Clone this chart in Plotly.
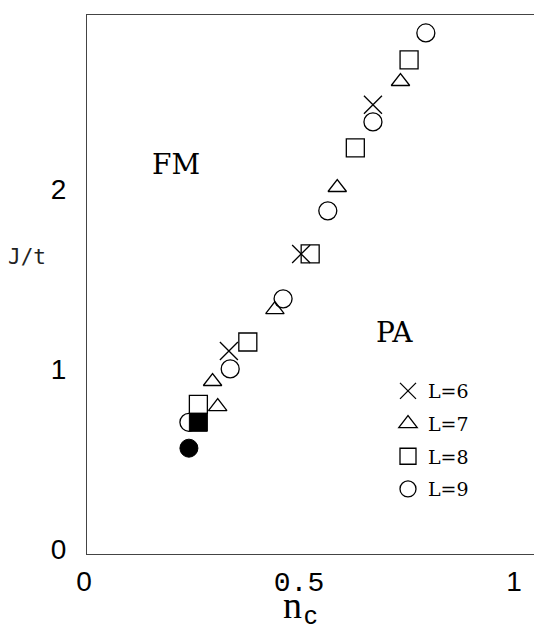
import plotly.graph_objects as go

# ---- data ----
L6_x = [0.330, 0.498, 0.665]
L6_y = [1.13, 1.67, 2.50]

L7_x = [0.292, 0.304, 0.437, 0.582, 0.729]
L7_y = [0.96, 0.82, 1.36, 2.04, 2.63]

L8_x = [0.259, 0.374, 0.519, 0.624, 0.749]
L8_y = [0.833, 1.18, 1.67, 2.26, 2.75]

L9_x = [0.237, 0.333, 0.456, 0.560, 0.665, 0.788]
L9_y = [0.733, 1.03, 1.42, 1.91, 2.405, 2.90]

filled_sq_x = [0.259]
filled_sq_y = [0.733]
filled_ci_x = [0.237]
filled_ci_y = [0.589]

x_tickvals = [0, 0.5, 1]
x_ticktext = ["0", '<span style="font-family:Liberation Mono;font-size:28px">0.5</span>', "1"]
y_tickvals = [0, 1, 2]
y_ticktext = ["0", "1", "2"]

series = [
    ("L=6", L6_x, L6_y, "x-thin-open"),
    ("L=7", L7_x, L7_y, "triangle-up-open"),
    ("L=8", L8_x, L8_y, "square-open"),
    ("L=9", L9_x, L9_y, "circle-open"),
]

fig = go.Figure()
for name, xs, ys, sym in series:
    fig.add_trace(go.Scatter(
        x=xs, y=ys, mode="markers", name=name, legendgroup=name,
        marker=dict(symbol=sym, size=18 if sym != "triangle-up-open" else 16,
                    color="black", line=dict(color="black", width=1.3)),
    ))

fig.add_trace(go.Scatter(x=filled_sq_x, y=filled_sq_y, mode="markers", showlegend=False,
                         marker=dict(symbol="square", size=18, color="black",
                                     line=dict(color="black", width=1))))
fig.add_trace(go.Scatter(x=filled_ci_x, y=filled_ci_y, mode="markers", showlegend=False,
                         marker=dict(symbol="circle", size=18, color="black",
                                     line=dict(color="black", width=1))))

W, H = 534, 629
L, R, T, B = 87, 0, 15, 75
PW, PH = W - L - R, H - T - B


def px(x):
    return (x - L) / PW


def py(y):
    return (554 - y) / PH


fig.update_layout(
    width=W, height=H,
    margin=dict(l=L, r=R, t=T, b=B),
    plot_bgcolor="white", paper_bgcolor="white",
    showlegend=True,
    legend=dict(x=px(388), y=py(372),
                xanchor="left", yanchor="top",
                font=dict(family="DejaVu Serif", size=19, color="black"),
                tracegroupgap=5, bgcolor="rgba(0,0,0,0)", itemsizing="trace"),
    xaxis=dict(range=[0, PW / 430], showgrid=False, zeroline=False,
               showline=True, linecolor="#444", linewidth=1.3, mirror=True,
               tickvals=x_tickvals, ticktext=x_ticktext, ticks="",
               ticklabelstandoff=2, ticklabelshift=-3,
               tickfont=dict(family="Liberation Sans", size=28, color="black")),
    yaxis=dict(range=[0, 3.0], showgrid=False, zeroline=False,
               showline=True, linecolor="#444", linewidth=1.3,
               tickvals=y_tickvals, ticktext=y_ticktext, ticks="",
               ticklabelstandoff=14, ticklabelshift=-5,
               tickfont=dict(family="Liberation Sans", size=28, color="black")),
    annotations=[
        dict(x=0.207, y=2.17, xref="x", yref="y", text="FM", showarrow=False,
             font=dict(family="DejaVu Serif", size=28, color="black"),
             xanchor="center", yanchor="middle"),
        dict(x=0.714, y=1.233, xref="x", yref="y", text="PA", showarrow=False,
             font=dict(family="DejaVu Serif", size=28, color="black"),
             xanchor="center", yanchor="middle"),
        dict(x=px(27.5), y=py(257), xref="paper", yref="paper",
             text="J/t", showarrow=False,
             font=dict(family="DejaVu Sans Mono", size=21, color="#222"),
             xanchor="center", yanchor="middle"),
        dict(x=px(292), y=py(605), xref="paper", yref="paper",
             text="n", showarrow=False,
             font=dict(family="Liberation Serif", size=38, color="black"),
             xanchor="center", yanchor="middle"),
        dict(x=px(310), y=py(615), xref="paper", yref="paper",
             text="c", showarrow=False,
             font=dict(family="Liberation Sans", size=26, color="black"),
             xanchor="center", yanchor="middle"),
    ],
)

fig.write_html("out.html")
